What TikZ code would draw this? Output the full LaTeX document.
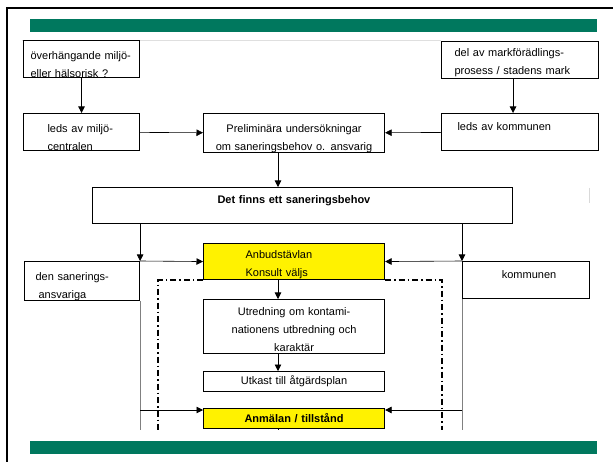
\documentclass[tikz,border=0pt]{standalone}
\usepackage{fontspec}
\setmainfont{Liberation Sans}
\usepackage{xcolor}
\usetikzlibrary{arrows.meta}
\definecolor{balk}{RGB}{0,120,94}

\begin{document}
\begin{tikzpicture}[x=1pt,y=-1pt,
    box/.style={draw,line width=1.1pt,fill=white,inner sep=0pt,anchor=north west,text height=14pt,font=\fontsize{11}{18}\selectfont},
    low/.style={text height=19pt},
    lpad/.style={align=left,execute at begin node={\leftskip=#1}},
    arr/.style={line width=0.6pt,-{Triangle[length=6.5pt,width=6.5pt]}},
    zone/.style={line width=1.3pt,dash pattern=on 6pt off 3pt on 1.5pt off 3pt}]
    \useasboundingbox (0,0) rectangle (613,462);
    \draw[line width=2pt] (613,8) -- (7,8) -- (7,462);
    \fill[balk] (30,19) rectangle (597,32);
    \fill[balk] (30,441) rectangle (597,454);
    \draw[gray!25] (22,40) -- (441,40);
    \draw[gray!30] (589,188) -- (589,203);

    \node[box,low,minimum width=116pt,minimum height=37pt,text width=116pt,lpad=7pt] (risk) at (23,40) {överhängande miljö-\\eller hälsorisk ?};
    \node[box,minimum width=157pt,minimum height=37pt,text width=157pt,lpad=13pt] (mark) at (441,41) {del av markförädlings-\\prosess / stadens mark};
    \node[box,low,minimum width=116pt,minimum height=37pt,text width=116pt,lpad=24pt] (miljo) at (23,113) {leds av miljö-\\centralen};
    \node[box,low,minimum width=181pt,minimum height=37pt,text width=181pt,align=center] (prelim) at (203,113) {Preliminära undersökningar\\om saneringsbehov o. ansvarig};
    \node[box,minimum width=157pt,minimum height=37pt,text width=157pt,lpad=16pt] (komled) at (441,113) {leds av kommunen\\\mbox{}};
    \node[box,minimum width=420pt,minimum height=36pt,text width=420pt,lpad=125pt] (behov) at (92,187) {\textbf{Det finns ett saneringsbehov}\\\mbox{}};
    \node[box,fill=yellow,minimum width=181pt,minimum height=36pt,text width=181pt,lpad=42pt] (anbud) at (203,243) {Anbudstävlan\\Konsult väljs};
    \node[box,low,minimum width=115pt,minimum height=37pt,text width=115pt,lpad=11pt] (ansv) at (24,261) {den sanerings-\\\hspace*{3pt}ansvariga};
    \node[box,minimum width=127pt,minimum height=37pt,text width=127pt,align=center] (kommun) at (462,261) {\hspace*{6pt}kommunen\\\mbox{}};
    \node[box,minimum width=181pt,minimum height=54pt,text width=181pt,align=center] (utred) at (203,299) {Utredning om kontami-\\nationens utbredning och\\karaktär};
    \node[box,minimum width=181pt,minimum height=20pt,text width=181pt,align=center,text height=9pt] (utkast) at (203,371) {Utkast till åtgärdsplan};
    \node[box,fill=yellow,minimum width=181pt,minimum height=20pt,text width=181pt,align=center,text height=9pt] (anmalan) at (203,408) {\textbf{Anmälan / tillstånd}};

    \coordinate (spine) at (278,0);
    \coordinate (cut) at (0,430);
    \coordinate (inL) at ([yshift=-2pt]anmalan.north west);
    \coordinate (inR) at ([yshift=-2pt]anmalan.north east);

    \draw[arr] (risk) -- (miljo);
    \draw[arr] ([xshift=-7pt]mark.south) -- ([xshift=-7pt]komled.north);
    \draw[arr] (miljo) -- (prelim);
    \draw[arr] (komled) -- (prelim);
    \draw[arr] (prelim.south -| spine) -- (behov.north -| spine);
    \draw[arr] (behov.south -| ansv.east) -- (ansv.north east);
    \draw[arr] (ansv.north east) -- (anbud.west);
    \draw[arr] (behov.south -| kommun.west) -- (kommun.north west);
    \draw[arr] (kommun.north west) -- (anbud.east);
    \draw[arr] (anbud.south -| spine) -- (utred.north -| spine);
    \draw[arr] (utred.south -| spine) -- (utkast.north -| spine);

    \draw[gray,line width=0.8pt] (ansv.south east) -- (ansv.south east |- cut);
    \draw[gray,line width=0.8pt] (kommun.south west) -- (kommun.south west |- cut);
    \draw[arr] (ansv.east |- inL) -- (inL);
    \draw[arr] (kommun.west |- inR) -- (inR);
    \draw[line width=0.6pt] (anmalan.south -| spine) -- (spine |- cut);

    % dash-dot zone
    \draw[zone] (anbud.south west) -| (158,430);
    \draw[zone] (anbud.south east) -| (442,430);
\end{tikzpicture}
\end{document}
